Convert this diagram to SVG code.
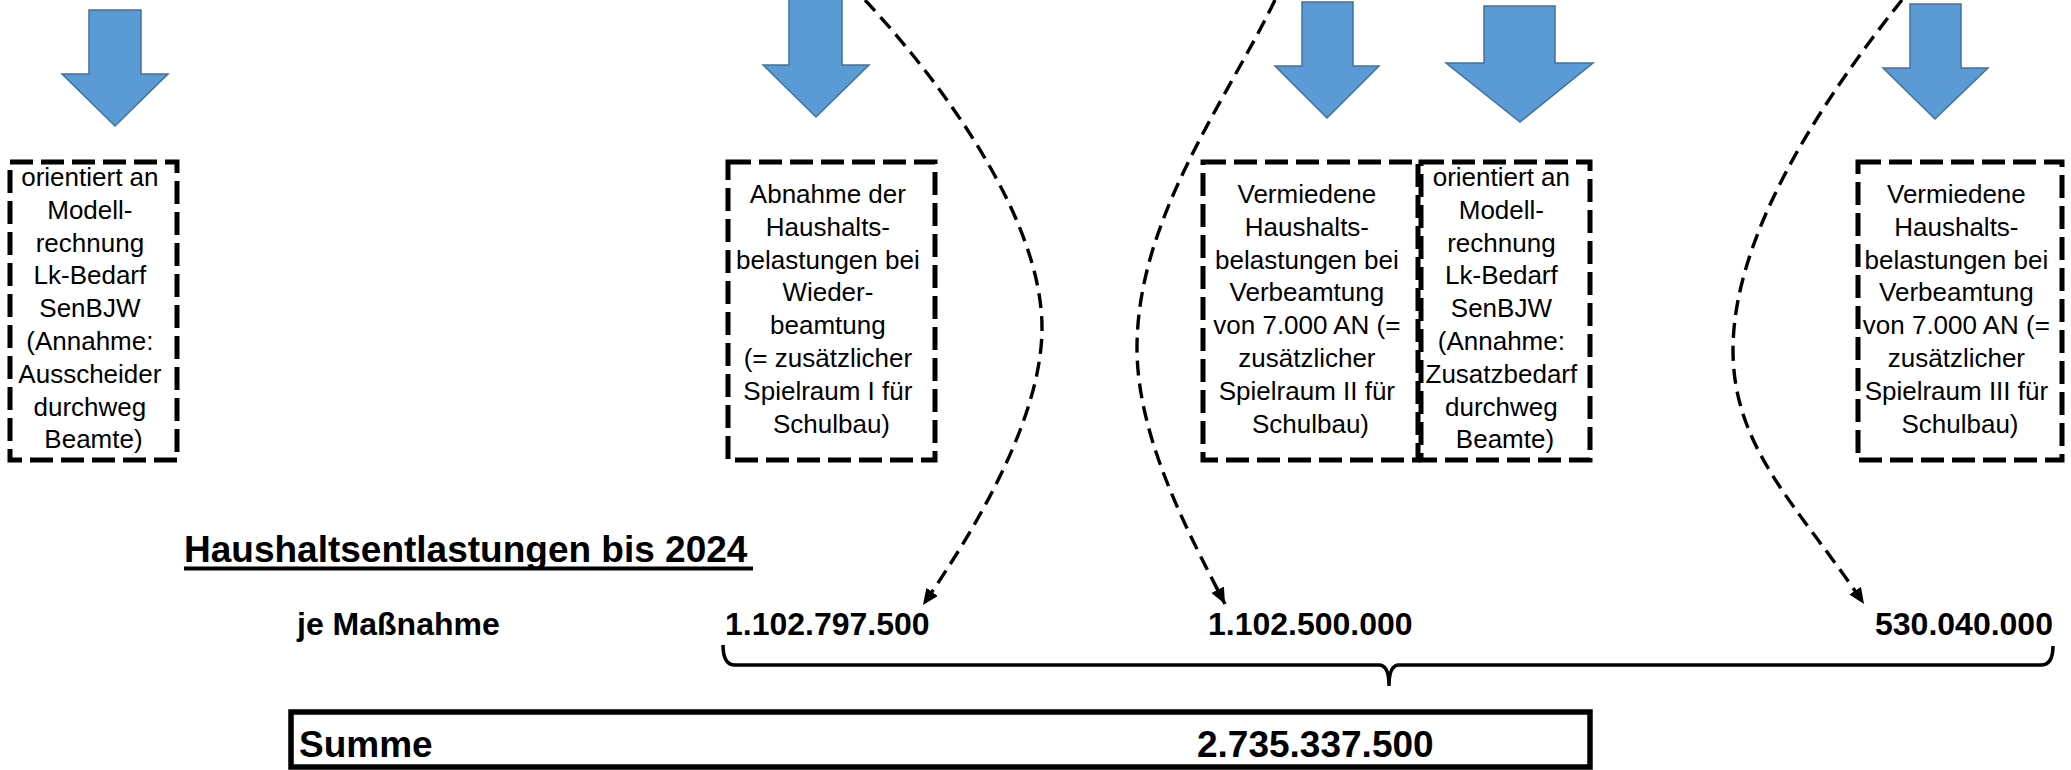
<svg xmlns="http://www.w3.org/2000/svg" width="2071" height="770" viewBox="0 0 2071 770">
<style>
.bg{fill:#ffffff}
.blk{fill:#5B9BD5;stroke:#41719C;stroke-width:1.5}
.box{fill:none;stroke:#000;stroke-width:5;stroke-dasharray:23 8}
.t{font-family:"Liberation Sans",Arial,sans-serif;font-size:26px;fill:#000;text-anchor:middle}
.b{font-family:"Liberation Sans",Arial,sans-serif;font-weight:bold;fill:#000}
.cur{fill:none;stroke:#000;stroke-width:3.4;stroke-dasharray:15 8;marker-end:url(#ah)}
.br{fill:none;stroke:#000;stroke-width:3.5}
</style>
<defs>
<marker id="ah" markerUnits="userSpaceOnUse" markerWidth="18" markerHeight="16" refX="16" refY="7" orient="auto" viewBox="0 0 18 16">
<path d="M0,0 L16,7 L0,14 z" fill="#000"/>
</marker>
</defs>
<rect class="bg" x="0" y="0" width="2071" height="770"/>

<g id="arrow1"><polygon class="blk" points="89,10 141,10 141,74 168,74 115,126 62,74 89,74"/></g>
<g id="arrow2"><polygon class="blk" points="789,-5 842,-5 842,65 869,65 816,117 763,65 789,65"/></g>
<g id="arrow3"><polygon class="blk" points="1302,2 1353,2 1353,66 1379,66 1327,118 1275,66 1302,66"/></g>
<g id="arrow4"><polygon class="blk" points="1484,6 1555,6 1555,63 1593,63 1520,122 1446,63 1484,63"/></g>
<g id="arrow5"><polygon class="blk" points="1910,4 1961,4 1961,68 1988,68 1935,119 1883,68 1910,68"/></g>

<g id="box1">
<rect class="box" x="10" y="162" width="167" height="298"/>
<text class="t">
<tspan x="93.5" y="186">orientiert an</tspan>
<tspan x="93.5" y="218.8">Modell-</tspan>
<tspan x="93.5" y="251.6">rechnung</tspan>
<tspan x="93.5" y="284.4">Lk-Bedarf</tspan>
<tspan x="93.5" y="317.2">SenBJW</tspan>
<tspan x="93.5" y="350">(Annahme:</tspan>
<tspan x="93.5" y="382.8">Ausscheider</tspan>
<tspan x="93.5" y="415.6">durchweg</tspan>
<tspan x="93.5" y="448.4">Beamte)</tspan>
</text>
</g>

<g id="box2">
<rect class="box" x="728" y="162" width="207" height="298"/>
<text class="t">
<tspan x="831.5" y="203">Abnahme der</tspan>
<tspan x="831.5" y="235.8">Haushalts-</tspan>
<tspan x="831.5" y="268.6">belastungen bei</tspan>
<tspan x="831.5" y="301.4">Wieder-</tspan>
<tspan x="831.5" y="334.2">beamtung</tspan>
<tspan x="831.5" y="367">(= zusätzlicher</tspan>
<tspan x="831.5" y="399.8">Spielraum I für</tspan>
<tspan x="831.5" y="432.6">Schulbau)</tspan>
</text>
</g>

<g id="box3">
<rect class="box" x="1203" y="162" width="215" height="298"/>
<text class="t">
<tspan x="1310.5" y="203">Vermiedene</tspan>
<tspan x="1310.5" y="235.8">Haushalts-</tspan>
<tspan x="1310.5" y="268.6">belastungen bei</tspan>
<tspan x="1310.5" y="301.4">Verbeamtung</tspan>
<tspan x="1310.5" y="334.2">von 7.000 AN (=</tspan>
<tspan x="1310.5" y="367">zusätzlicher</tspan>
<tspan x="1310.5" y="399.8">Spielraum II für</tspan>
<tspan x="1310.5" y="432.6">Schulbau)</tspan>
</text>
</g>

<g id="box4">
<rect class="box" x="1421" y="162" width="169" height="298"/>
<text class="t">
<tspan x="1505" y="186">orientiert an</tspan>
<tspan x="1505" y="218.8">Modell-</tspan>
<tspan x="1505" y="251.6">rechnung</tspan>
<tspan x="1505" y="284.4">Lk-Bedarf</tspan>
<tspan x="1505" y="317.2">SenBJW</tspan>
<tspan x="1505" y="350">(Annahme:</tspan>
<tspan x="1505" y="382.8">Zusatzbedarf</tspan>
<tspan x="1505" y="415.6">durchweg</tspan>
<tspan x="1505" y="448.4">Beamte)</tspan>
</text>
</g>

<g id="box5">
<rect class="box" x="1858" y="162" width="204" height="298"/>
<text class="t">
<tspan x="1960" y="203">Vermiedene</tspan>
<tspan x="1960" y="235.8">Haushalts-</tspan>
<tspan x="1960" y="268.6">belastungen bei</tspan>
<tspan x="1960" y="301.4">Verbeamtung</tspan>
<tspan x="1960" y="334.2">von 7.000 AN (=</tspan>
<tspan x="1960" y="367">zusätzlicher</tspan>
<tspan x="1960" y="399.8">Spielraum III für</tspan>
<tspan x="1960" y="432.6">Schulbau)</tspan>
</text>
</g>

<g id="heading">
<text class="b" x="184" y="562" font-size="37">Haushaltsentlastungen bis 2024</text>
<rect x="184" y="566.5" width="569" height="4" fill="#000"/>
</g>

<g id="values">
<text class="b" x="297" y="635" font-size="32">je Maßnahme</text>
<text class="b" x="725" y="635" font-size="32">1.102.797.500</text>
<text class="b" x="1208" y="635" font-size="32">1.102.500.000</text>
<text class="b" x="1875" y="635" font-size="32">530.040.000</text>
</g>

<g id="sum">
<rect x="291" y="712" width="1299" height="55" fill="none" stroke="#000" stroke-width="5.5"/>
<text class="b" x="299" y="757" font-size="37">Summe</text>
<text class="b" x="1197" y="757" font-size="37">2.735.337.500</text>
</g>

<g id="connectors">
<path class="cur" d="M865,0 C945,86 1042,220 1042,328 C1042,418 975,530 923,605"/>
<path class="cur" d="M1275,0 C1227,100 1137,218 1137,348 C1137,438 1189,534 1225,604"/>
<path class="cur" d="M1902,0 C1830,90 1733,230 1733,350 C1733,450 1800,508 1864,604"/>
<path class="br" d="M723,645 Q723,665 735,665 L1379,665 Q1389,665 1389,686 Q1389,665 1399,665 L2041,665 Q2053,665 2053,646"/>
</g>
</svg>
